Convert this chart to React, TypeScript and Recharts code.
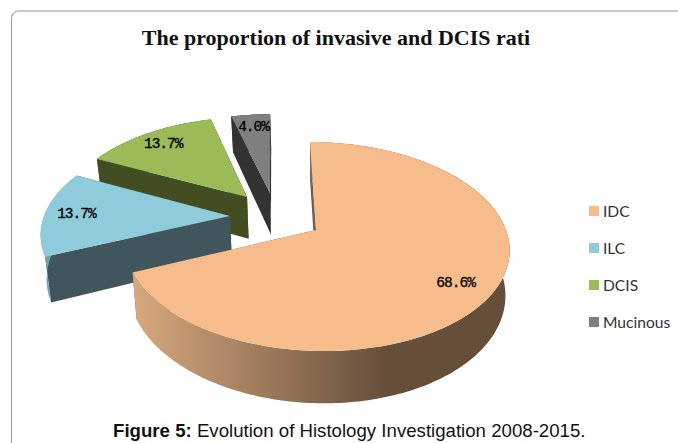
import React from "react";
import { PieChart, Pie, Legend } from "recharts";

const categories = ["Mucinous", "DCIS", "ILC", "IDC"];
const shares = [4.0, 13.7, 13.7, 68.6];
const legendOrder = ["IDC", "ILC", "DCIS", "Mucinous"];

const TOP_COLORS: Record<string, string> = { IDC: "#f6bc8b", ILC: "#90cbdb", DCIS: "#9bbb59", Mucinous: "#7f7f7f" };
const SIDE_COLORS: Record<string, string> = { IDC: "#7a5d44", ILC: "#40555c", DCIS: "#424e22", Mucinous: "#333333" };
const RIM_COLORS: Record<string, string> = { IDC: "url(#idcRim)", ILC: "#6fa3b2", DCIS: "#424e22", Mucinous: "#333333" };
// explosion of each slice, in units of the radius, on the tilted plane
const EXPLODE: Record<string, [number, number]> = {
  IDC: [0, 0],
  ILC: [-0.458, 0.14],
  DCIS: [-0.37, 0.341],
  Mucinous: [-0.243, 0.385],
};
// label placement: fraction of the radius, and a small vertical nudge
const LABEL_PLACE: Record<string, [number, number]> = {
  IDC: [0.8, 5],
  ILC: [0.83, 0],
  DCIS: [0.83, 1],
  Mucinous: [0.83, 0],
};

const rows = categories.map((name, i) => ({ name, value: shares[i], fill: TOP_COLORS[name] }));

const W = 678, H = 443;
const CX = 316, CY = 230, R = 190;
const TILT = 101.9 / 190, PERSP = 0.158, SKEW = -7, DEPTH = 44, SHRINK = 0.978;
const RAD = Math.PI / 180;

function project(cx: number, cy: number, r: number, X: number, Y: number) {
  const d = 1 + PERSP * Y;
  return { x: cx + (r * X) / d + (SKEW * Y) / d, y: cy - (r * TILT * Y) / d, d };
}
function lower(cx: number, p: { x: number; y: number; d: number }) {
  return { x: cx + (p.x - cx) * SHRINK, y: p.y + DEPTH / p.d };
}
const toPath = (pts: { x: number; y: number }[]) =>
  "M" + pts.map((p) => `${p.x.toFixed(2)},${p.y.toFixed(2)}`).join("L") + "Z";

function Slice(props: any) {
  const { cx, cy, outerRadius, startAngle, endAngle } = props;
  const name: string = props.name ?? props.payload?.name;
  const [ox, oy] = EXPLODE[name];
  const at = (deg: number) =>
    project(cx, cy, outerRadius, ox + Math.cos(deg * RAD), oy + Math.sin(deg * RAD));
  const lo = Math.min(startAngle, endAngle), hi = Math.max(startAngle, endAngle);
  const arc: ReturnType<typeof at>[] = [];
  for (let a = lo; a < hi; a += 1) arc.push(at(a));
  arc.push(at(hi));
  const apex = project(cx, cy, outerRadius, ox, oy);
  const face = (p: ReturnType<typeof at>) => toPath([apex, p, lower(cx, p), lower(cx, apex)]);
  const rim = toPath([...arc, ...arc.slice().reverse().map((p) => lower(cx, p))]);
  return (
    <g>
      <defs>
        <linearGradient id="idcRim" x1="0" y1="0" x2="1" y2="0">
          <stop offset="0" stopColor="#d8a87e" />
          <stop offset="0.68" stopColor="#654e3a" />
          <stop offset="1" stopColor="#654e3a" />
        </linearGradient>
      </defs>
      <path d={face(arc[0])} fill={SIDE_COLORS[name]} />
      <path d={face(arc[arc.length - 1])} fill={SIDE_COLORS[name]} />
      <path d={rim} fill={RIM_COLORS[name]} />
      <path d={toPath([apex, ...arc])} fill={TOP_COLORS[name]} />
    </g>
  );
}

function SliceLabel(props: any) {
  const { cx, cy, outerRadius, midAngle, value } = props;
  const name: string = props.name ?? props.payload?.name;
  const [ox, oy] = EXPLODE[name];
  const [k, nudge] = LABEL_PLACE[name];
  const p = project(
    cx,
    cy,
    outerRadius,
    ox + k * Math.cos(midAngle * RAD),
    oy + k * Math.sin(midAngle * RAD)
  );
  return (
    <text
      x={p.x}
      y={p.y + nudge}
      textAnchor="middle"
      dominantBaseline="central"
      fontFamily="'Liberation Mono', monospace"
      fontSize={14.5}
      letterSpacing={-1}
      fill="#000"
      stroke="#000"
      strokeWidth={0.3}
    >
      {Number(value).toFixed(1)}%
    </text>
  );
}

function LegendBox(props: any) {
  const payload: any[] = props.payload ?? [];
  const sorted = legendOrder.map((n) => payload.find((e) => e.value === n)).filter(Boolean);
  return (
    <div>
      {sorted.map((e) => (
        <div key={e.value} style={{ display: "flex", alignItems: "center", height: 37 }}>
          <span style={{ width: 10, height: 10, background: e.color, marginRight: 4, flex: "none" }} />
          <span style={{ fontFamily: "Lato, sans-serif", fontSize: 15.6, color: "#333" }}>{e.value}</span>
        </div>
      ))}
    </div>
  );
}

export default function App() {
  return (
    <div style={{ position: "absolute", left: 0, top: 0, width: W, height: H, overflow: "hidden", background: "#fff" }}>
      <div
        style={{
          position: "absolute",
          left: 11,
          top: 10,
          width: 680,
          height: 460,
          boxSizing: "border-box",
          borderTop: "2px solid #c9c9c9",
          borderLeft: "1px solid #999",
          borderTopLeftRadius: 8,
        }}
      />
      <div
        style={{
          position: "absolute",
          left: 0,
          width: W,
          top: 25,
          textAlign: "center",
          transform: "translateX(-3px)",
          fontFamily: "'Liberation Serif', serif",
          fontWeight: "bold",
          fontSize: 22,
          lineHeight: "26px",
          color: "#111",
        }}
      >
        The proportion of invasive and DCIS rati
      </div>
      <div style={{ position: "absolute", left: 0, top: 0 }}>
        <PieChart width={W} height={H} margin={{ top: 0, right: 0, bottom: 0, left: 0 }}>
          <Pie
            data={rows}
            dataKey="value"
            nameKey="name"
            cx={CX}
            cy={CY}
            outerRadius={R}
            innerRadius={0}
            startAngle={90}
            endAngle={450}
            stroke="none"
            shape={Slice}
            label={SliceLabel}
            labelLine={false}
            isAnimationActive={false}
          />
          <Legend
            content={LegendBox}
            layout="vertical"
            wrapperStyle={{ position: "absolute", left: 589, top: 192, width: 89, height: 150 }}
          />
        </PieChart>
      </div>
      <div
        style={{
          position: "absolute",
          left: 113,
          top: 420,
          whiteSpace: "nowrap",
          fontFamily: "'Liberation Sans', Arial, sans-serif",
          fontSize: 18.65,
          lineHeight: "22px",
          color: "#111",
        }}
      >
        <b>Figure 5:</b> Evolution of Histology Investigation 2008-2015.
      </div>
    </div>
  );
}
